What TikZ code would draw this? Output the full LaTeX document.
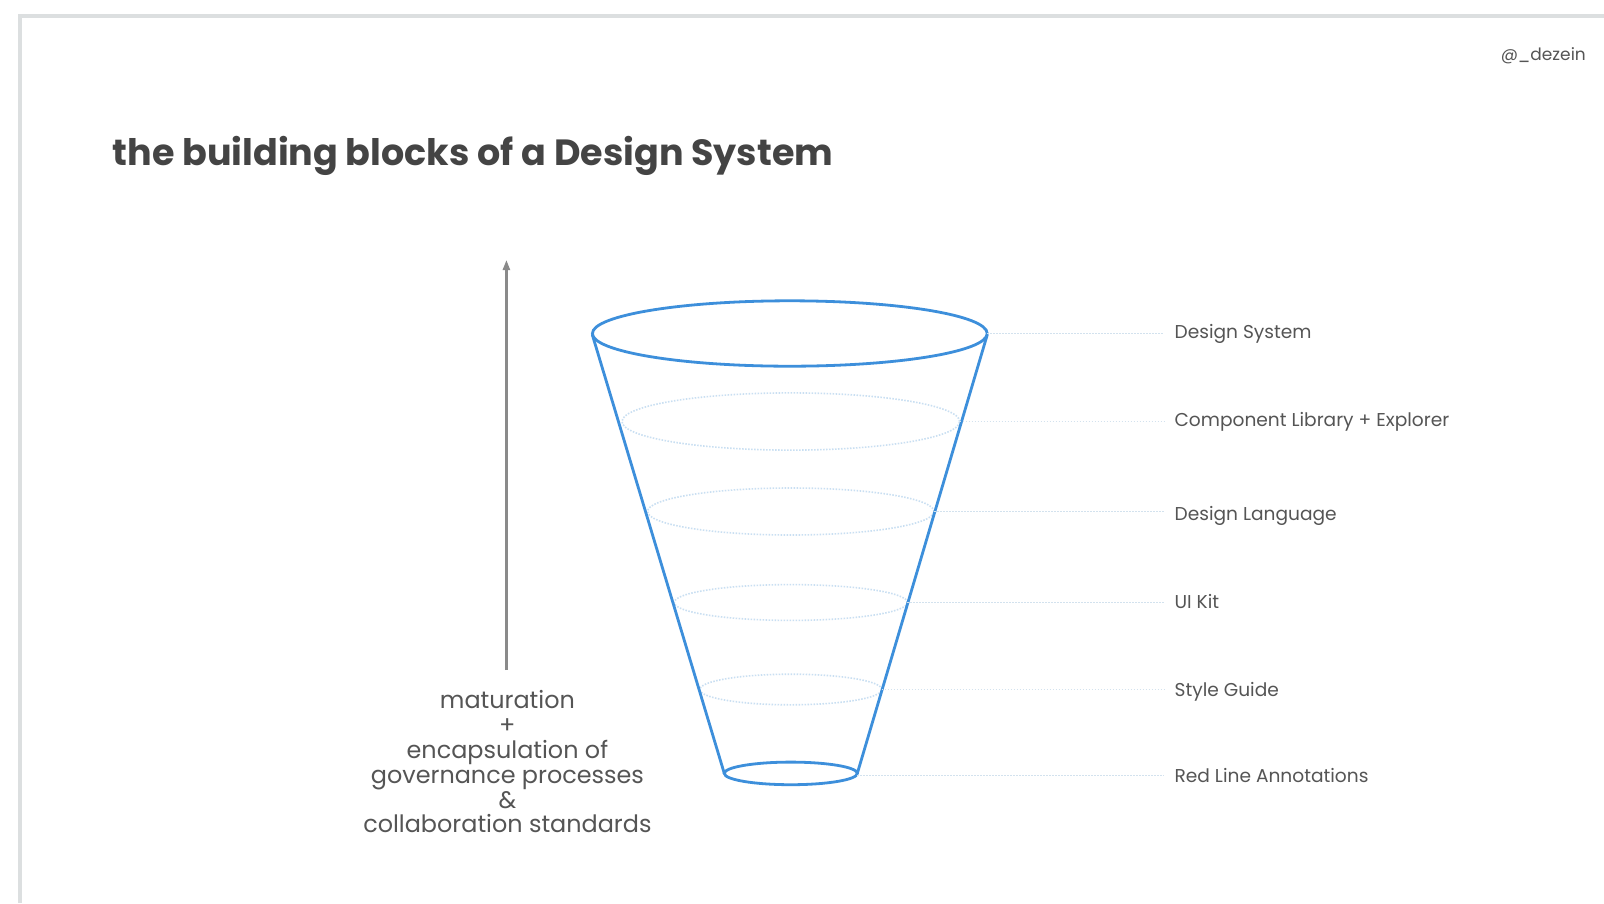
\documentclass[tikz,border=0pt]{standalone}
\usepackage{fontspec}
\setmainfont{Poppins}
\usetikzlibrary{arrows.meta}
\definecolor{funnelblue}{HTML}{3D8FDB}
\definecolor{dotblue}{HTML}{C9DFF2}
\definecolor{leadblue}{HTML}{D3E2EE}
\definecolor{txtgray}{HTML}{555555}
\definecolor{titlegray}{HTML}{444444}
\definecolor{framegray}{HTML}{DCDFE0}
\definecolor{arrowgray}{HTML}{8A8A8A}
\tikzset{
  funnel/.style={draw=funnelblue, line width=2.8pt},
  levelring/.style={draw=dotblue, line width=1.6pt, dash pattern=on 1.5pt off 1.5pt},
  leader/.style={draw=leadblue, line width=1.4pt, dash pattern=on 1.5pt off 1.5pt},
  lvllabel/.style={anchor=west, inner sep=0pt, text=txtgray, font=\fontsize{18.6}{22}\selectfont},
}
\begin{document}
\begin{tikzpicture}[x=1pt,y=-1pt]
\useasboundingbox (0,0) rectangle (1604,903);
\fill[white] (0,0) rectangle (1604,903);
% frame
\draw[framegray, line width=4pt] (19.5,903) -- (19.5,15.5) -- (1604,15.5);
% handle
\node[anchor=east, inner sep=0pt, text=txtgray, font=\fontsize{17}{20}\selectfont] (handle) at (1586,56) {@\_dezein};
% title
\node[anchor=base west, inner sep=0pt, text=titlegray, font=\fontsize{36.5}{42}\selectfont\bfseries] (title) at (112.5,165) {the building blocks of a Design System};
% arrow
\coordinate (arrbot) at (506.4,670);
\coordinate (arrtop) at (506.4,260);
\draw[arrowgray, line width=2.2pt, -{Triangle[length=10pt,width=7pt]}] (arrbot) -- (arrtop);
% left text
\node[align=center, inner sep=0pt, text=txtgray, font=\fontsize{23.9}{24.8}\selectfont] (matur) at (507.4,762) {maturation\\+\\encapsulation of\\governance processes\\\&\\collaboration standards};
% inner level rings
\draw[levelring] (790.8,421.5) ellipse [x radius=168.8pt, y radius=28.6pt];
\draw[levelring] (790.8,511.5) ellipse [x radius=143.2pt, y radius=23.5pt];
\draw[levelring] (790.8,602.5) ellipse [x radius=116.6pt, y radius=17.9pt];
\draw[levelring] (790.8,689.5) ellipse [x radius=91pt, y radius=15.3pt];
% funnel
\draw[funnel] (789.8,333.5) ellipse [x radius=197.4pt, y radius=32.7pt];
\draw[funnel] (790.8,773.4) ellipse [x radius=66.5pt, y radius=11.3pt];
\coordinate (tl) at (592.4,335);
\coordinate (tr) at (987.2,335);
\coordinate (bl) at (724.3,773.4);
\coordinate (br) at (857.3,773.4);
\draw[funnel, line cap=round] (tl) -- (bl);
\draw[funnel, line cap=round] (tr) -- (br);
% ring right points
\coordinate (r1) at (987.2,333.5);
\coordinate (r2) at (959.6,421.5);
\coordinate (r3) at (934.0,511.5);
\coordinate (r4) at (907.4,602.5);
\coordinate (r5) at (881.8,689.5);
\coordinate (r6) at (857.3,775.4);
% leader ends
\coordinate (e1) at (1164,333.5);
\coordinate (e2) at (1164,421.5);
\coordinate (e3) at (1164,511.5);
\coordinate (e4) at (1164,602.5);
\coordinate (e5) at (1164,689.5);
\coordinate (e6) at (1164,775.4);
% labels
\node[lvllabel] (l1) at (1174.4,333.5) {Design System};
\node[lvllabel] (l2) at (1174.4,421.4) {Component Library + Explorer};
\node[lvllabel] (l3) at (1174.4,515.5) {Design Language};
\node[lvllabel] (l4) at (1174.4,601.5) {UI Kit};
\node[lvllabel] (l5) at (1174.4,691.5) {Style Guide};
\node[lvllabel] (l6) at (1174.4,775.4) {Red Line Annotations};
% leaders
\draw[leader] (r1) -- (e1);
\draw[leader] (r2) -- (e2);
\draw[leader] (r3) -- (e3);
\draw[leader] (r4) -- (e4);
\draw[leader] (r5) -- (e5);
\draw[leader] (r6) -- (e6);
\end{tikzpicture}
\end{document}
